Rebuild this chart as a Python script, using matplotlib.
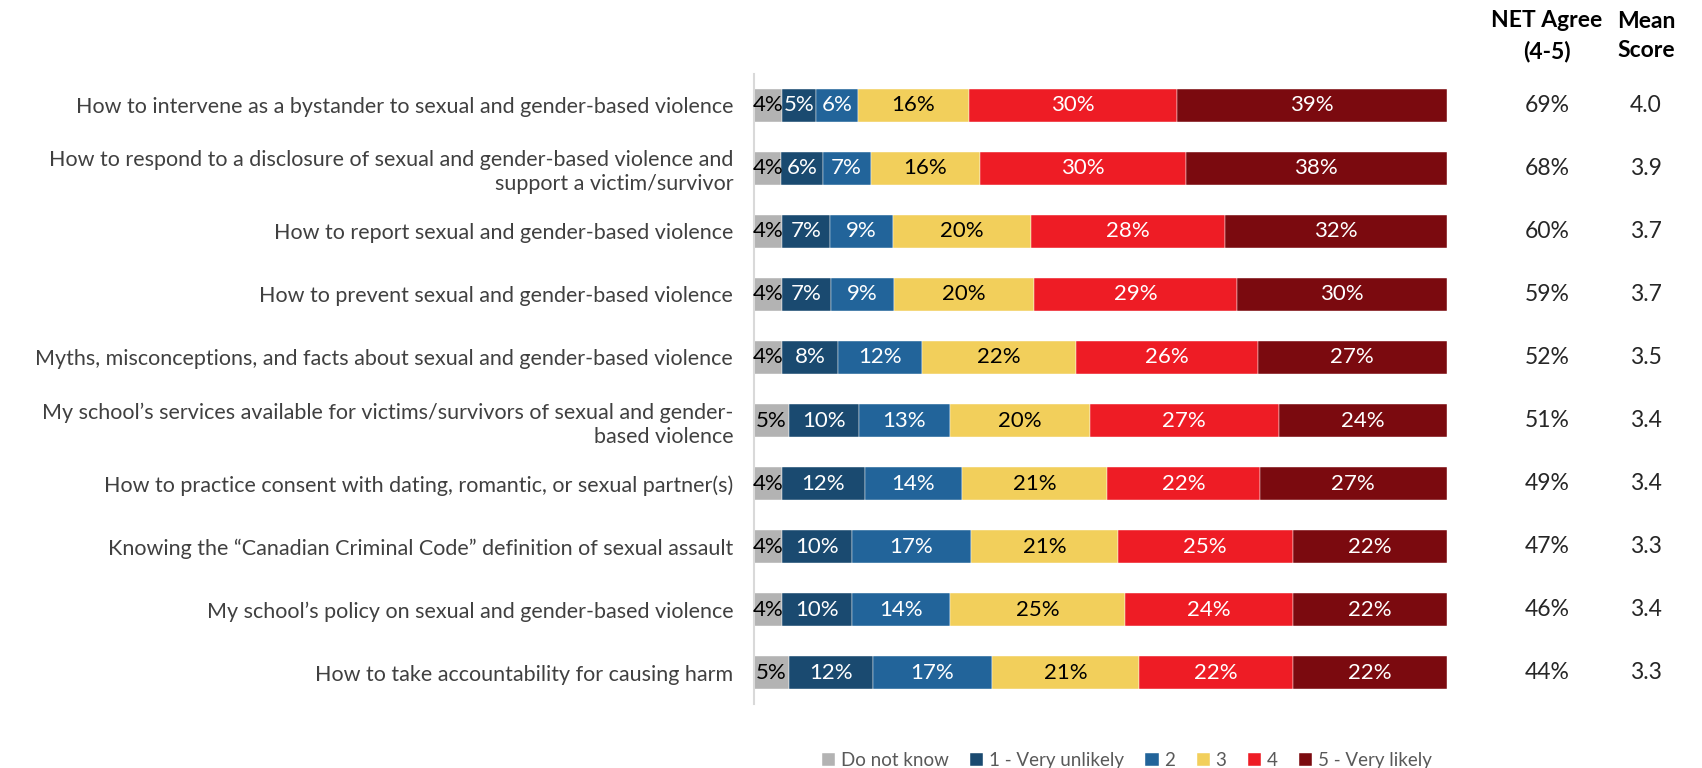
import matplotlib.pyplot as plt
import numpy as np

plt.rcParams['font.family'] = ['Lato', 'DejaVu Sans']

categories = [
    "How to intervene as a bystander to sexual and gender-based violence",
    "How to respond to a disclosure of sexual and gender-based violence and\nsupport a victim/survivor",
    "How to report sexual and gender-based violence",
    "How to prevent sexual and gender-based violence",
    "Myths, misconceptions, and facts about sexual and gender-based violence",
    "My school\u2019s services available for victims/survivors of sexual and gender-\nbased violence",
    "How to practice consent with dating, romantic, or sexual partner(s)",
    "Knowing the \u201cCanadian Criminal Code\u201d definition of sexual assault",
    "My school\u2019s policy on sexual and gender-based violence",
    "How to take accountability for causing harm",
]
dont_know = [4, 4, 4, 4, 4, 5, 4, 4, 4, 5]
very_unlikely = [5, 6, 7, 7, 8, 10, 12, 10, 10, 12]
two = [6, 7, 9, 9, 12, 13, 14, 17, 14, 17]
three = [16, 16, 20, 20, 22, 20, 21, 21, 25, 21]
four = [30, 30, 28, 29, 26, 27, 22, 25, 24, 22]
very_likely = [39, 38, 32, 30, 27, 24, 27, 22, 22, 22]
net_agree = [69, 68, 60, 59, 52, 51, 49, 47, 46, 44]
mean_score = [4.0, 3.9, 3.7, 3.7, 3.5, 3.4, 3.4, 3.3, 3.4, 3.3]

series = [dont_know, very_unlikely, two, three, four, very_likely]
names = ["Do not know", "1 - Very unlikely", "2", "3", "4", "5 - Very likely"]
colors = ["#B3B3B3", "#1A4A70", "#22649A", "#F2CF5B", "#EE1C25", "#7B0A0F"]
txt_colors = ["black", "white", "white", "black", "white", "white"]

fig = plt.figure(figsize=(17.02, 7.68), dpi=100)
ax = fig.add_axes([0.443, 0.083, 0.407, 0.821])

y = np.arange(len(categories))
# rows are shown as 100% stacked bars (rounded values don't always add to 100)
totals = np.sum(np.array(series, dtype=float), axis=0)
left = np.zeros(len(categories))
for vals, name, c, tc in zip(series, names, colors, txt_colors):
    vals = np.array(vals, dtype=float)
    w = vals / totals * 100
    ax.barh(y, w, left=left, height=0.52, color=c, label=name,
            edgecolor="white", linewidth=0.3)
    for yi, l, wi, v in zip(y, left, w, vals):
        ax.text(l + wi / 2, yi, f"{int(v)}%", ha="center", va="center",
                color=tc, fontsize=16)
    left += w

ax.set_xlim(0, 100)
ax.set_ylim(len(categories) - 0.5, -0.5)
ax.set_yticks(y)
ax.set_yticklabels(categories, fontsize=15.5, color="#404040",
                   multialignment="right", linespacing=1.25)
ax.tick_params(axis="y", length=0, pad=15)
ax.set_xticks([])
for s in ["top", "right", "bottom"]:
    ax.spines[s].set_visible(False)
ax.spines["left"].set_color("#D9D9D9")
ax.spines["left"].set_linewidth(1.5)

# right-hand columns
for yi, n, m in zip(y, net_agree, mean_score):
    yf = ax.transData.transform((0, yi))[1]
    yfig = fig.transFigure.inverted().transform((0, yf))[1]
    fig.text(0.909, yfig, f"{n}%", ha="center", va="center", fontsize=16.5,
             color="#262626")
    fig.text(0.967, yfig, f"{m:.1f}", ha="center", va="center", fontsize=16.5,
             color="#262626")
fig.text(0.909, 0.953, "NET Agree\n(4-5)", ha="center", va="center",
         fontsize=16.5, fontweight="bold", linespacing=1.5)
fig.text(0.967, 0.953, "Mean\nScore", ha="center", va="center",
         fontsize=16.5, fontweight="bold", linespacing=1.5)

leg = fig.legend(loc="center", bbox_to_anchor=(0.662, 0.010), ncol=6,
                 frameon=False, fontsize=13.5, handlelength=0.7,
                 handleheight=0.7, handletextpad=0.3, columnspacing=1.15)
for t in leg.get_texts():
    t.set_color("#595959")

fig.savefig("out.png", dpi=100)
